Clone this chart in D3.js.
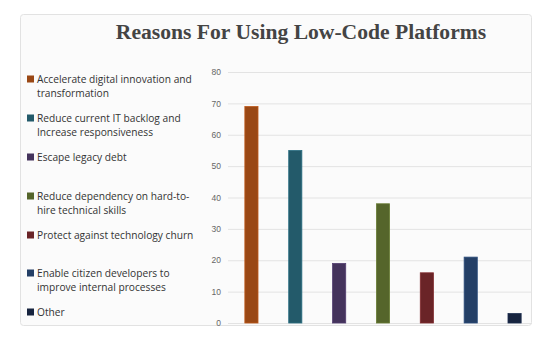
<!DOCTYPE html>
<html>
<head>
<meta charset="utf-8">
<script src="https://cdn.jsdelivr.net/npm/d3@7"></script>
<style>
  html, body { margin: 0; padding: 0; background: #fff; }
  svg { display: block; }
</style>
</head>
<body>
<figure id="bars" style="margin:0"></figure>
<script>
// chart data
const reasons = [
  ["Accelerate digital innovation and", "transformation"],
  ["Reduce current IT backlog and", "Increase responsiveness"],
  ["Escape legacy debt"],
  ["Reduce dependency on hard-to-", "hire technical skills"],
  ["Protect against technology churn"],
  ["Enable citizen developers to", "improve internal processes"],
  ["Other"]
];
const shares = [69, 55, 19, 38, 16, 21, 3];
const colors = ["#9a4815", "#235a6a", "#44335c", "#55652b", "#6a2427", "#243f66", "#17243f"];
const yTicks = [0, 10, 20, 30, 40, 50, 60, 70, 80];

const width = 553, height = 337;

const svg = d3.select("figure#bars")
  .append("svg")
  .attr("width", width)
  .attr("height", height);

// card
svg.append("rect")
  .attr("x", 20.5).attr("y", 14.5)
  .attr("width", 511).attr("height", 311)
  .attr("rx", 3)
  .attr("fill", "#fbfbfb")
  .attr("stroke", "#e2e2e2");

svg.append("text")
  .attr("x", 301).attr("y", 39)
  .attr("text-anchor", "middle")
  .attr("font-family", "Liberation Serif, serif")
  .attr("font-weight", "bold")
  .attr("font-size", 21.6)
  .attr("fill", "#444")
  .text("Reasons For Using Low-Code Platforms");

// scales
const x = d3.scaleBand()
  .domain(d3.range(shares.length))
  .range([229.5, 536.5])
  .paddingInner(0.7)
  .paddingOuter(0.35);

const y = d3.scaleLinear()
  .domain([0, 80])
  .range([323, 72]);

// gridlines + labels
const grid = svg.append("g")
  .attr("transform", "translate(228,0)")
  .call(d3.axisLeft(y).tickValues(yTicks).tickSize(-304).tickPadding(7));
grid.select(".domain").remove();
grid.selectAll(".tick line").attr("stroke", "#e3e3e3").attr("stroke-width", 1);
grid.selectAll(".tick text")
  .attr("fill", "#666")
  .attr("font-family", "Liberation Sans, Arial, sans-serif")
  .attr("font-size", 8.5);

// bars
svg.append("g")
  .selectAll("rect")
  .data(shares)
  .enter()
  .append("rect")
  .attr("x", (d, i) => x(i))
  .attr("y", d => y(d))
  .attr("width", x.bandwidth())
  .attr("height", d => y(0) - y(d))
  .attr("fill", (d, i) => colors[i])
  .attr("stroke", (d, i) => d3.color(colors[i]).brighter(0.6))
  .attr("stroke-width", 0.8);

// legend
const legendY = [79, 118, 157, 196, 235, 273, 312];
const legend = svg.append("g")
  .selectAll("g")
  .data(reasons)
  .enter()
  .append("g")
  .attr("transform", (d, i) => "translate(27," + legendY[i] + ")");

legend.append("rect")
  .attr("x", 0).attr("y", -3.5)
  .attr("width", 7).attr("height", 7)
  .attr("fill", (d, i) => colors[i]);

legend.selectAll("text")
  .data(d => d)
  .enter()
  .append("text")
  .attr("x", 10)
  .attr("y", (d, j) => 4 + j * 14)
  .attr("font-family", "Open Sans, sans-serif")
  .attr("font-size", 10.2)
  .attr("fill", "#333")
  .text(d => d);
</script>
</body>
</html>
